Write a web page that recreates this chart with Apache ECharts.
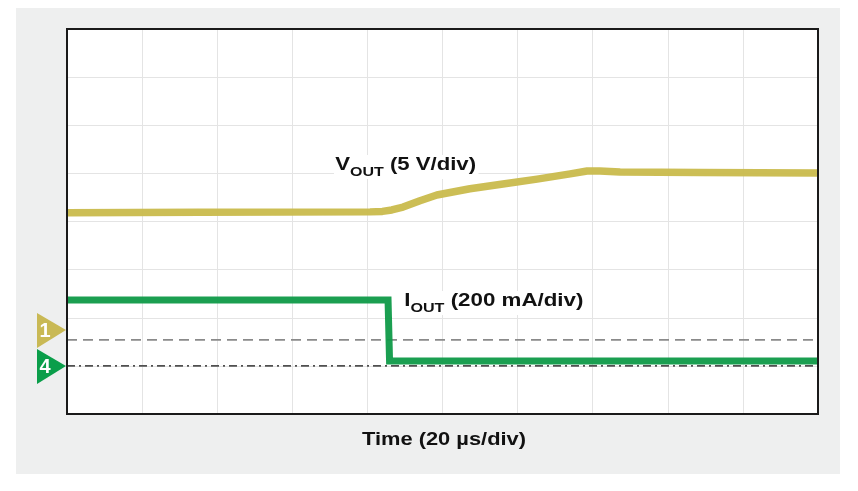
<!DOCTYPE html>
<html>
<head>
<meta charset="utf-8">
<script src="https://cdn.jsdelivr.net/npm/echarts@6/dist/echarts.min.js"></script>
<style>
  html, body { margin: 0; padding: 0; background: #ffffff; }
  #wrap { position: relative; width: 858px; height: 491px; }
  #panel { position: absolute; left: 16px; top: 8px; width: 824px; height: 466px; background: #eeefef; }
  #chart { position: absolute; left: 0; top: 0; width: 858px; height: 491px; }
</style>
</head>
<body>
<div id="wrap"><div id="panel"></div><div id="chart"></div></div>
<script>
// Time axis in microseconds (20 µs/div, 10 divisions); vertical axis in divisions (8 divisions)
const timeTicks = [0, 20, 40, 60, 80, 100, 120, 140, 160, 180, 200];
const divTicks = [0, 1, 2, 3, 4, 5, 6, 7, 8];

// VOUT trace (channel 1), [time µs, divisions]
const voutTime = [0, 35.4, 80.7, 84.0, 86.5, 89.5, 94.0, 98.5, 107.3, 116.1, 125.2, 134.0, 138.5, 141.9, 147.3, 168.6, 200];
const voutDiv  = [4.18, 4.19, 4.20, 4.21, 4.24, 4.30, 4.43, 4.55, 4.68, 4.78, 4.88, 4.99, 5.05, 5.05, 5.03, 5.02, 5.01];

// IOUT trace (channel 4), [time µs, divisions]
const ioutTime = [0, 85.5, 85.9, 200];
const ioutDiv  = [2.37, 2.37, 1.10, 1.10];

// Channel ground reference levels (divisions)
const ch1Ground = 1.54;
const ch4Ground = 1.00;

const chart = echarts.init(document.getElementById('chart'), null, { renderer: 'canvas' });

const zip = (xs, ys) => xs.map((x, i) => [x, ys[i]]);

const gridLeft = 67, gridTop = 29, gridW = 751, gridH = 385;
const FONT = 'Liberation Sans, Arial, Helvetica, sans-serif';

const richStyles = {
  v: { fontFamily: FONT, fontWeight: 'bold', fontSize: 18, fill: '#111', lineHeight: 22, verticalAlign: 'top' },
  s: { fontFamily: FONT, fontWeight: 'bold', fontSize: 13, fill: '#111', lineHeight: 14, padding: [10, 0, 0, 0], verticalAlign: 'top' }
};

const option = {
  backgroundColor: 'transparent',
  animation: false,
  grid: {
    left: gridLeft, top: gridTop, width: gridW, height: gridH,
    show: true, backgroundColor: '#ffffff', borderWidth: 0
  },
  xAxis: {
    type: 'value', min: timeTicks[0], max: timeTicks[timeTicks.length - 1], interval: 20,
    axisLine: { show: false }, axisTick: { show: false }, axisLabel: { show: false },
    splitLine: { show: true, lineStyle: { color: '#e4e4e4', width: 1 } }
  },
  yAxis: {
    type: 'value', min: divTicks[0], max: divTicks[divTicks.length - 1], interval: 1,
    axisLine: { show: false }, axisTick: { show: false }, axisLabel: { show: false },
    splitLine: { show: true, lineStyle: { color: '#e4e4e4', width: 1 } }
  },
  series: [
    {
      name: 'ch1gnd', type: 'line', showSymbol: false, silent: true,
      data: [[timeTicks[0], ch1Ground], [timeTicks[timeTicks.length - 1], ch1Ground]],
      lineStyle: { color: '#8a8a8a', width: 1.6, type: [10, 6] }, z: 2
    },
    {
      name: 'ch4gnd', type: 'line', showSymbol: false, silent: true,
      data: [[timeTicks[0], ch4Ground], [timeTicks[timeTicks.length - 1], ch4Ground]],
      lineStyle: { color: '#505050', width: 1.6, type: [8, 4, 2, 4] }, z: 2
    },
    {
      name: 'VOUT', type: 'line', showSymbol: false, smooth: false,
      data: zip(voutTime, voutDiv),
      lineStyle: { color: '#c9ba4c', width: 7.5, opacity: 0.95, join: 'round' }, z: 3
    },
    {
      name: 'IOUT', type: 'line', showSymbol: false,
      data: zip(ioutTime, ioutDiv),
      lineStyle: { color: '#0f9a48', width: 7, opacity: 0.95, join: 'miter' }, z: 4
    }
  ],
  graphic: [
    {
      type: 'rect', z: 20, silent: true,
      shape: { x: gridLeft, y: gridTop, width: gridW, height: gridH },
      style: { fill: 'none', stroke: '#1a1a1a', lineWidth: 2 }
    },
    {
      type: 'text', x: 334, y: 155, scaleX: 1.23, z: 10,
      style: {
        rich: richStyles,
        text: '{v|V}{s|OUT}{v| (5 V/div)}',
        backgroundColor: '#ffffff', padding: [1, 2, 1, 1]
      }
    },
    {
      type: 'text', x: 403, y: 291, scaleX: 1.24, z: 10,
      style: {
        rich: richStyles,
        text: '{v|I}{s|OUT}{v| (200 mA/div)}',
        backgroundColor: '#ffffff', padding: [1, 2, 1, 1]
      }
    },
    {
      type: 'text', x: 444, y: 440, scaleX: 1.15, z: 10,
      style: {
        text: 'Time (20 µs/div)', fontFamily: FONT, fontWeight: 'bold', fontSize: 19,
        fill: '#111', align: 'center', verticalAlign: 'middle'
      }
    },
    {
      type: 'polygon', z: 10,
      shape: { points: [[37, 313], [66, 330], [37, 348]] },
      style: { fill: '#c9b955' }
    },
    {
      type: 'text', x: 45, y: 331, z: 11,
      style: { text: '1', fontFamily: FONT, fontWeight: 'bold', fontSize: 20, fill: '#ffffff', align: 'center', verticalAlign: 'middle' }
    },
    {
      type: 'polygon', z: 10,
      shape: { points: [[37, 349], [66, 366], [37, 384]] },
      style: { fill: '#0a9e4a' }
    },
    {
      type: 'text', x: 45, y: 367, z: 11,
      style: { text: '4', fontFamily: FONT, fontWeight: 'bold', fontSize: 20, fill: '#ffffff', align: 'center', verticalAlign: 'middle' }
    }
  ]
};

chart.setOption(option);
</script>
</body>
</html>
